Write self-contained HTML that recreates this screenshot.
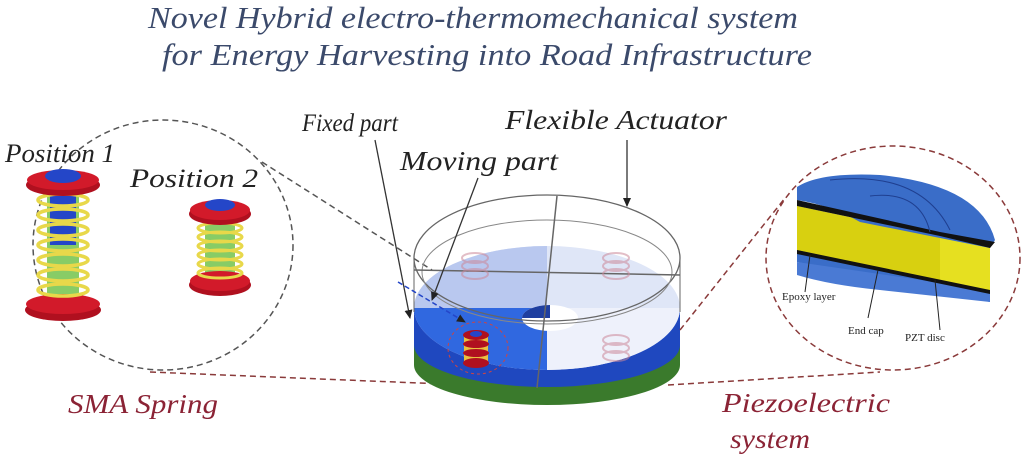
<!DOCTYPE html>
<html><head><meta charset="utf-8"><style>
html,body{margin:0;padding:0;background:#fff;}
svg{display:block;}
text{font-family:"Liberation Serif",serif;font-style:italic;}
</style></head><body>
<svg width="1024" height="458" viewBox="0 0 1024 458" xmlns="http://www.w3.org/2000/svg">
<defs>
<marker id="ah" markerWidth="10" markerHeight="10" refX="8" refY="5" orient="auto" markerUnits="userSpaceOnUse"><path d="M0,1 L9,5 L0,9 z" fill="#222"/></marker>
<marker id="ar" markerWidth="10" markerHeight="10" refX="8" refY="5" orient="auto" markerUnits="userSpaceOnUse"><path d="M0,1 L9,5 L0,9 z" fill="#a33"/></marker>
</defs>
<text x="148" y="28" font-size="31" fill="#3b4a6b" textLength="650" lengthAdjust="spacingAndGlyphs">Novel Hybrid electro-thermomechanical system</text>
<text x="162" y="65" font-size="31" fill="#3b4a6b" textLength="650" lengthAdjust="spacingAndGlyphs">for Energy Harvesting into Road Infrastructure</text>

<!-- left zoom circle -->
<ellipse cx="163" cy="245" rx="130" ry="125" fill="none" stroke="#555" stroke-width="1.5" stroke-dasharray="6,4"/>
<line x1="262" y1="162" x2="432" y2="270" stroke="#555" stroke-width="1.5" stroke-dasharray="6,4"/>
<line x1="150" y1="372" x2="468" y2="385" stroke="#8a3a3a" stroke-width="1.5" stroke-dasharray="6,4" marker-end="url(#ar)"/>

<!-- spring 1 -->
<rect x="47" y="190" width="32" height="110" fill="#8c6"/>
<rect x="50" y="190" width="26" height="55" fill="#2446c8"/>
<ellipse cx="63" cy="310" rx="38" ry="11" fill="#b0101f"/>
<ellipse cx="63" cy="304" rx="37" ry="10" fill="#d21a2a"/>
<g fill="none" stroke="#e8d84a" stroke-width="3.5">
<ellipse cx="63" cy="200" rx="25" ry="6"/><ellipse cx="63" cy="215" rx="25" ry="6"/><ellipse cx="63" cy="230" rx="25" ry="6"/><ellipse cx="63" cy="245" rx="25" ry="6"/><ellipse cx="63" cy="260" rx="25" ry="6"/><ellipse cx="63" cy="275" rx="25" ry="6"/><ellipse cx="63" cy="290" rx="25" ry="6"/>
</g>
<ellipse cx="63" cy="185" rx="37" ry="11" fill="#b0101f"/>
<ellipse cx="63" cy="180" rx="36" ry="10" fill="#d21a2a"/>
<ellipse cx="63" cy="176" rx="18" ry="7" fill="#2446c8"/>

<!-- spring 2 -->
<rect x="205" y="220" width="30" height="60" fill="#8c6"/>
<ellipse cx="220" cy="285" rx="31" ry="11" fill="#b0101f"/>
<ellipse cx="220" cy="281" rx="30" ry="10" fill="#d21a2a"/>
<g fill="none" stroke="#e8d84a" stroke-width="3">
<ellipse cx="220" cy="228" rx="22" ry="5"/><ellipse cx="220" cy="237" rx="22" ry="5"/><ellipse cx="220" cy="246" rx="22" ry="5"/><ellipse cx="220" cy="255" rx="22" ry="5"/><ellipse cx="220" cy="264" rx="22" ry="5"/><ellipse cx="220" cy="273" rx="22" ry="5"/>
</g>
<ellipse cx="220" cy="214" rx="31" ry="11" fill="#b0101f"/>
<ellipse cx="220" cy="210" rx="30" ry="10" fill="#d21a2a"/>
<ellipse cx="220" cy="205" rx="15" ry="6" fill="#2446c8"/>

<text x="5" y="162" font-size="26" fill="#222" textLength="110" lengthAdjust="spacingAndGlyphs">Position 1</text>
<text x="130" y="187" font-size="26" fill="#222" textLength="128" lengthAdjust="spacingAndGlyphs">Position 2</text>
<text x="68" y="413" font-size="27" fill="#8b2335" textLength="150" lengthAdjust="spacingAndGlyphs">SMA Spring</text>

<!-- main disk -->
<path d="M414,330 L414,365 A133,40 0 0 0 680,365 L680,330 z" fill="#3a7a2c"/>
<path d="M414,312 L414,345 A133,42 0 0 0 680,345 L680,312 z" fill="#1f48bf"/>
<ellipse cx="547" cy="308" rx="133" ry="62" fill="#dfe6f7"/>
<path d="M547,308 L414,308 A133,62 0 0 0 547,370 z" fill="#3068e0"/>
<path d="M547,308 L414,308 A133,62 0 0 1 547,246 z" fill="#b9c8ef"/>
<path d="M547,308 L680,308 A133,62 0 0 1 547,370 z" fill="#eef1fb"/>
<ellipse cx="550" cy="318" rx="28" ry="13" fill="#fff"/>
<path d="M522,318 A28,13 0 0 1 550,305 L550,318 z" fill="#1f3fa0"/>
<!-- lid -->
<ellipse cx="547" cy="258" rx="133" ry="63" fill="none" stroke="#666" stroke-width="1.3"/>
<ellipse cx="547" cy="272" rx="125" ry="52" fill="none" stroke="#888" stroke-width="1"/>
<line x1="414" y1="258" x2="414" y2="312" stroke="#666"/>
<line x1="680" y1="258" x2="680" y2="312" stroke="#666"/>
<line x1="414" y1="270" x2="680" y2="275" stroke="#666" stroke-width="1.5"/>
<line x1="557" y1="196" x2="537" y2="388" stroke="#666" stroke-width="1.5"/>
<!-- small springs -->
<g opacity="0.55" fill="none" stroke="#c89" stroke-width="2">
<ellipse cx="475" cy="258" rx="13" ry="5"/><ellipse cx="475" cy="266" rx="13" ry="5"/><ellipse cx="475" cy="274" rx="13" ry="5"/>
<ellipse cx="616" cy="258" rx="13" ry="5"/><ellipse cx="616" cy="266" rx="13" ry="5"/><ellipse cx="616" cy="274" rx="13" ry="5"/>
<ellipse cx="616" cy="340" rx="13" ry="5"/><ellipse cx="616" cy="348" rx="13" ry="5"/><ellipse cx="616" cy="356" rx="13" ry="5"/>
</g>
<g>
<rect x="464" y="335" width="24" height="28" fill="#e8c040"/>
<ellipse cx="476" cy="363" rx="13" ry="5" fill="#b0101f"/>
<ellipse cx="476" cy="353" rx="13" ry="4" fill="#b0101f"/>
<ellipse cx="476" cy="344" rx="13" ry="4" fill="#b0101f"/>
<ellipse cx="476" cy="335" rx="13" ry="5" fill="#b0101f"/>
<ellipse cx="476" cy="334" rx="6" ry="3" fill="#2446c8"/>
</g>
<ellipse cx="478" cy="348" rx="30" ry="26" fill="none" stroke="#c44" stroke-dasharray="3,3"/>
<line x1="398" y1="282" x2="465" y2="322" stroke="#2446c8" stroke-width="1.5" stroke-dasharray="5,3" marker-end="url(#ah)"/>

<!-- labels and arrows -->
<text x="302" y="131" font-size="25" fill="#222" textLength="96" lengthAdjust="spacingAndGlyphs">Fixed part</text>
<text x="505" y="129" font-size="27" fill="#222" textLength="222" lengthAdjust="spacingAndGlyphs">Flexible Actuator</text>
<text x="400" y="170" font-size="27" fill="#222" textLength="158" lengthAdjust="spacingAndGlyphs">Moving part</text>
<line x1="375" y1="140" x2="410" y2="318" stroke="#333" stroke-width="1.3" marker-end="url(#ah)"/>
<line x1="478" y1="178" x2="432" y2="300" stroke="#333" stroke-width="1.3" marker-end="url(#ah)"/>
<line x1="627" y1="140" x2="627" y2="206" stroke="#333" stroke-width="1.3" marker-end="url(#ah)"/>

<!-- right zoom circle -->
<ellipse cx="893" cy="258" rx="127" ry="112" fill="none" stroke="#8a3a3a" stroke-width="1.5" stroke-dasharray="6,4"/>
<line x1="680" y1="330" x2="785" y2="198" stroke="#8a3a3a" stroke-width="1.5" stroke-dasharray="6,4"/>
<line x1="668" y1="385" x2="880" y2="372" stroke="#8a3a3a" stroke-width="1.5" stroke-dasharray="6,4"/>
<!-- piezo -->
<path d="M797,240 L797,262 L990,302 L990,290 Q975,250 935,240 z" fill="#3a6dc8"/>
<path d="M797,262 L797,275 Q830,285 880,290 L990,302 L990,290 z" fill="#4a7ad4"/>
<path d="M797,206 L797,250 L990,292 L990,248 z" fill="#e6e020"/>
<path d="M797,206 L797,250 L940,280 L940,236 z" fill="#d8d010"/>
<path d="M797,187 Q820,172 880,175 Q980,185 995,240 L990,248 L940,238 L860,222 Q830,205 797,200 z" fill="#3a6dc8"/>
<path d="M797,200 L797,206 L940,236 L990,248 L995,242 L940,232 z" fill="#111"/>
<path d="M797,250 L797,254 L990,294 L990,290 z" fill="#111"/>
<path d="M830,180 Q920,170 950,230" fill="none" stroke="#1f3f90"/>
<path d="M870,196 Q920,190 930,232" fill="none" stroke="#1f3f90"/>
<line x1="810" y1="255" x2="805" y2="292" stroke="#222"/>
<line x1="878" y1="270" x2="868" y2="318" stroke="#222"/>
<line x1="935" y1="280" x2="940" y2="330" stroke="#222"/>
<text x="782" y="300" font-size="11" fill="#222" style="font-style:normal">Epoxy layer</text>
<text x="848" y="334" font-size="11" fill="#222" style="font-style:normal">End cap</text>
<text x="905" y="341" font-size="11" fill="#222" style="font-style:normal">PZT disc</text>
<text x="722" y="412" font-size="27" fill="#8b2335" textLength="168" lengthAdjust="spacingAndGlyphs">Piezoelectric</text>
<text x="730" y="448" font-size="27" fill="#8b2335" textLength="80" lengthAdjust="spacingAndGlyphs">system</text>
</svg>
</body></html>
